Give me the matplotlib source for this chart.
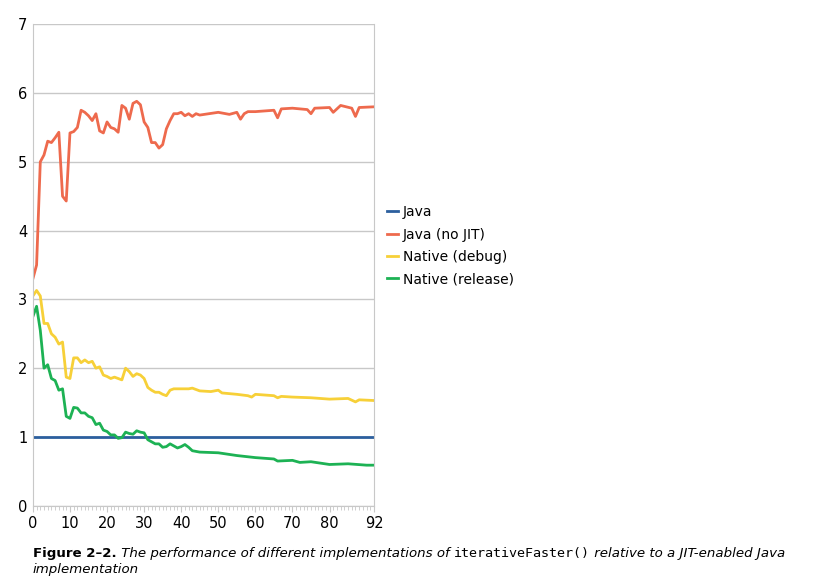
import matplotlib.pyplot as plt

# values (x position, ratio)
java_x = [0, 92]
java_y = [1.0, 1.0]

nojit_x = [0, 1, 2, 3, 4, 5, 6, 7, 8, 9, 10, 11, 12, 13, 14, 15, 16, 17, 18, 19, 20,
           21, 22, 23, 24, 25, 26, 27, 28, 29, 30, 31, 32, 33, 34, 35, 36, 37, 38, 39,
           40, 41, 42, 43, 44, 45, 50, 53, 55, 56, 57, 58, 60, 65, 66, 67, 70, 74, 75,
           76, 80, 81, 83, 86, 87, 88, 92]
nojit_y = [3.3, 3.5, 5.0, 5.1, 5.3, 5.28, 5.35, 5.43, 4.5, 4.43, 5.42, 5.44, 5.5, 5.75,
           5.72, 5.67, 5.6, 5.7, 5.45, 5.42, 5.58, 5.5, 5.48, 5.43, 5.82, 5.78, 5.62,
           5.85, 5.88, 5.83, 5.58, 5.5, 5.28, 5.28, 5.2, 5.25, 5.48, 5.6, 5.7, 5.7,
           5.72, 5.67, 5.7, 5.66, 5.7, 5.68, 5.72, 5.69, 5.72, 5.62, 5.7, 5.73, 5.73,
           5.75, 5.64, 5.77, 5.78, 5.76, 5.7, 5.78, 5.79, 5.72, 5.82, 5.78, 5.66, 5.79, 5.8]

debug_x = [0, 1, 2, 3, 4, 5, 6, 7, 8, 9, 10, 11, 12, 13, 14, 15, 16, 17, 18, 19, 20,
           21, 22, 23, 24, 25, 26, 27, 28, 29, 30, 31, 32, 33, 34, 35, 36, 37, 38, 40,
           42, 43, 45, 48, 50, 51, 55, 58, 59, 60, 65, 66, 67, 70, 75, 80, 85, 87, 88, 92]
debug_y = [3.05, 3.13, 3.05, 2.65, 2.65, 2.5, 2.45, 2.35, 2.38, 1.87, 1.85, 2.15, 2.15,
           2.08, 2.12, 2.08, 2.1, 2.0, 2.02, 1.9, 1.88, 1.85, 1.87, 1.85, 1.83, 2.0,
           1.95, 1.88, 1.92, 1.9, 1.85, 1.72, 1.68, 1.65, 1.65, 1.62, 1.6, 1.68, 1.7,
           1.7, 1.7, 1.71, 1.67, 1.66, 1.68, 1.64, 1.62, 1.6, 1.58, 1.62, 1.6, 1.57,
           1.59, 1.58, 1.57, 1.55, 1.56, 1.51, 1.54, 1.53]

release_x = [0, 1, 2, 3, 4, 5, 6, 7, 8, 9, 10, 11, 12, 13, 14, 15, 16, 17, 18, 19, 20,
             21, 22, 23, 24, 25, 26, 27, 28, 29, 30, 31, 32, 33, 34, 35, 36, 37, 38, 39,
             40, 41, 42, 43, 45, 50, 55, 60, 65, 66, 70, 72, 75, 80, 85, 90, 92]
release_y = [2.75, 2.9, 2.55, 2.0, 2.05, 1.85, 1.82, 1.68, 1.7, 1.3, 1.27, 1.43, 1.42,
             1.35, 1.35, 1.3, 1.28, 1.18, 1.2, 1.1, 1.08, 1.03, 1.03, 0.98, 0.99, 1.07,
             1.05, 1.04, 1.09, 1.07, 1.06, 0.96, 0.93, 0.9, 0.9, 0.85, 0.86, 0.9, 0.87,
             0.84, 0.86, 0.89, 0.85, 0.8, 0.78, 0.77, 0.73, 0.7, 0.68, 0.65, 0.66, 0.63,
             0.64, 0.6, 0.61, 0.59, 0.59]

fig = plt.figure(figsize=(8.22, 5.78), dpi=100)
ax = fig.add_axes([0.040, 0.125, 0.415, 0.833])

ax.plot(java_x, java_y, color="#2C5F9E", lw=2, label="Java")
ax.plot(nojit_x, nojit_y, color="#EE6A4D", lw=2, label="Java (no JIT)")
ax.plot(debug_x, debug_y, color="#F7D038", lw=2, label="Native (debug)")
ax.plot(release_x, release_y, color="#1DB254", lw=2, label="Native (release)")

ax.set_xlim(0, 92)
ax.set_ylim(0, 7)
ax.set_xticks([0, 10, 20, 30, 40, 50, 60, 70, 80, 92])
ax.set_xticks(range(0, 93), minor=True)
ax.set_yticks(range(8))
ax.grid(axis="y", color="#c8c8c8", lw=1)
ax.set_axisbelow(True)
ax.spines["top"].set_visible(False)
for s in ["left", "right", "bottom"]:
    ax.spines[s].set_color("#c8c8c8")
ax.tick_params(axis="y", length=0, labelsize=10.5, pad=4)
ax.tick_params(axis="x", which="major", length=4, color="#c8c8c8", labelsize=10.5)
ax.tick_params(axis="x", which="minor", length=3, color="#c8c8c8")

ax.legend(loc="center left", bbox_to_anchor=(1.0, 0.54), frameon=False,
          fontsize=10, handlelength=0.8, handletextpad=0.4, labelspacing=0.6)

fs = 9.6
t1 = fig.text(0.040, 0.032, "Figure 2\u20132.", fontsize=fs, fontweight="bold",
              va="bottom")
t2 = ax.annotate(" The performance of different implementations of ", xy=(1, 0),
                 xycoords=t1, va="bottom", fontsize=fs, style="italic")
t3 = ax.annotate("iterativeFaster()", xy=(1, 0), xycoords=t2, va="bottom",
                 fontsize=fs, family="DejaVu Sans Mono")
ax.annotate(" relative to a JIT-enabled Java", xy=(1, 0), xycoords=t3,
            va="bottom", fontsize=fs, style="italic")
fig.text(0.040, 0.003, "implementation", fontsize=fs, style="italic", va="bottom")

fig.savefig("out.png")
